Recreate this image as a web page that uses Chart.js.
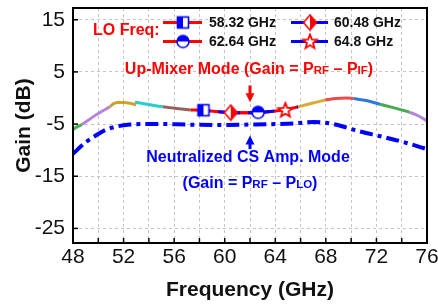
<!DOCTYPE html>
<html><head><meta charset="utf-8">
<script src="https://cdn.jsdelivr.net/npm/chart.js@4.4.0/dist/chart.umd.min.js"></script>
<style>html,body{margin:0;padding:0;background:#fff;}#wrap{width:438px;height:308px;position:relative;}</style>
</head><body><div id="wrap"><canvas id="c" width="438" height="308"></canvas></div>
<script>
const FONT = '"Liberation Sans", Arial, Helvetica, sans-serif';

// tick labels
const xTickLabels = [48, 52, 56, 60, 64, 68, 72, 76];
const yTickLabels = [15, 5, -5, -15, -25];

// LO frequencies (legend) and marker positions
const loNames = ['58.32 GHz', '60.48 GHz', '62.64 GHz', '64.8 GHz'];
const loFreqs = [58.32, 60.48, 62.64, 64.8];
const loGains = [-2.35, -2.8, -2.75, -2.3];

// Up-mixer mode, colored segments (frequency GHz / gain dB)
const greenA_f = [48.0, 48.35, 48.7];
const greenA_g = [-6.0, -5.5, -5.1];
const purpleA_f = [48.7, 49.3, 49.9, 50.4, 50.9];
const purpleA_g = [-5.1, -4.1, -3.1, -2.4, -1.7];
const goldA_f = [50.9, 51.2, 51.5, 52.0, 52.5, 53.0];
const goldA_g = [-1.7, -1.1, -0.85, -0.85, -1.0, -1.3];
const cyan_f = [52.9, 54.1, 55.1];
const cyan_g = [-0.8, -1.3, -1.7];
const brown_f = [55.1, 56.2, 57.3];
const brown_g = [-1.7, -2.0, -2.3];
const mid_f = [57.3, 58.3, 59.3, 60.4, 61.5, 62.5, 63.6, 64.6, 65.8];
const mid_g = [-2.3, -2.35, -2.6, -2.8, -2.85, -2.8, -2.6, -2.3, -1.7];
const goldB_f = [65.8, 66.9, 67.95];
const goldB_g = [-1.7, -1.0, -0.4];
const redB_f = [67.95, 68.8, 69.6, 70.2];
const redB_g = [-0.4, -0.1, 0.0, -0.1];
const blueB_f = [70.2, 71.2, 72.3];
const blueB_g = [-0.1, -0.5, -1.2];
const greenB_f = [72.3, 73.4, 74.6];
const greenB_g = [-1.2, -1.9, -2.7];
const purpleB_f = [74.6, 75.3, 76.0];
const purpleB_g = [-2.7, -3.4, -4.4];

// Neutralized CS amplifier mode
const cs_f = [48, 49, 49.8, 50.5, 51.4, 52.5, 53.3, 55, 57, 59.4, 62, 64, 65.6, 67.1, 68.6, 70.5, 72.6, 74.2, 76];
const cs_g = [-10.7, -8.5, -7.2, -6.2, -5.5, -5.1, -5.0, -5.0, -5.1, -5.2, -5.1, -5.0, -4.85, -4.6, -5.0, -6.3, -7.5, -8.5, -9.8];

const RED = 'rgb(255,0,0)';
const BLUE = 'rgb(0,0,255)';

function pts(fs, gs) { return fs.map((f, i) => ({ x: f, y: gs[i] })); }

function mk(w, draw) {
  const c = document.createElement('canvas'); c.width = w; c.height = w;
  draw(c.getContext('2d'), w / 2); return c;
}
const markers = [
  mk(16, (g, c) => { // half-filled square
    g.fillStyle = '#fff'; g.fillRect(c - 5.5, c - 5.5, 11, 11);
    g.fillStyle = BLUE; g.fillRect(c - 5.5, c - 5.5, 5.5, 11);
    g.strokeStyle = BLUE; g.lineWidth = 1.6; g.strokeRect(c - 5.5, c - 5.5, 11, 11);
  }),
  mk(18, (g, c) => { // half-filled diamond (right)
    g.beginPath(); g.moveTo(c, c - 7.5); g.lineTo(c + 6.5, c); g.lineTo(c, c + 7.5); g.lineTo(c - 6.5, c); g.closePath();
    g.fillStyle = '#fff'; g.fill();
    g.beginPath(); g.moveTo(c, c - 7.5); g.lineTo(c + 6.5, c); g.lineTo(c, c + 7.5); g.closePath();
    g.fillStyle = RED; g.fill();
    g.beginPath(); g.moveTo(c, c - 7.5); g.lineTo(c + 6.5, c); g.lineTo(c, c + 7.5); g.lineTo(c - 6.5, c); g.closePath();
    g.strokeStyle = RED; g.lineWidth = 1.6; g.stroke();
  }),
  mk(16, (g, c) => { // half-filled circle (top)
    g.beginPath(); g.arc(c, c, 6, 0, Math.PI * 2); g.fillStyle = '#fff'; g.fill();
    g.beginPath(); g.arc(c, c, 6, Math.PI, 0); g.closePath(); g.fillStyle = BLUE; g.fill();
    g.beginPath(); g.arc(c, c, 6, 0, Math.PI * 2); g.strokeStyle = BLUE; g.lineWidth = 1.5; g.stroke();
  }),
  mk(18, (g, c) => { // star outline
    g.beginPath();
    for (let i = 0; i < 10; i++) {
      const r = i % 2 ? 3.2 : 7.5; const a = -Math.PI / 2 + i * Math.PI / 5;
      const px = c + r * Math.cos(a), py = c + 0.5 + r * Math.sin(a);
      i ? g.lineTo(px, py) : g.moveTo(px, py);
    }
    g.closePath(); g.fillStyle = '#fff'; g.fill();
    g.strokeStyle = RED; g.lineWidth = 1.8; g.lineJoin = 'miter'; g.stroke();
  })
];
const loLineColors = [RED, BLUE, RED, BLUE];

function seg(fs, gs, color, order) {
  return { data: pts(fs, gs), showLine: true, borderColor: color, borderWidth: 3, pointRadius: 0,
    cubicInterpolationMode: 'monotone', borderCapStyle: 'butt', order: order };
}

const datasets = [];
// markers on top
loFreqs.forEach((f, i) => {
  datasets.push({ label: loNames[i], data: [{ x: f, y: loGains[i] }], showLine: false,
    pointStyle: markers[i], pointRadius: 7, order: 0 });
});
// LO-specific line portions (red solid underneath, blue dashed on top)
const bl1 = seg(mid_f.slice(1, 7), mid_g.slice(1, 7), BLUE, 1); bl1.borderDash = [7, 8];
const bl2 = seg(mid_f.slice(5), mid_g.slice(5), BLUE, 1); bl2.borderDash = [7, 8]; bl2.borderDashOffset = 4;
datasets.push(bl1, bl2);
datasets.push(seg(mid_f.slice(0, 6), mid_g.slice(0, 6), RED, 2));
datasets.push(seg(mid_f.slice(3), mid_g.slice(3), RED, 2));
// other LO segments
datasets.push(seg(greenA_f, greenA_g, 'rgb(70,175,80)', 3));
datasets.push(seg(purpleA_f, purpleA_g, 'rgb(178,132,222)', 3));
datasets.push(seg(goldA_f, goldA_g, 'rgb(205,160,40)', 3));
datasets.push(seg(cyan_f, cyan_g, 'rgb(40,205,205)', 3));
datasets.push(seg(brown_f, brown_g, 'rgb(150,95,90)', 3));
datasets.push(seg(goldB_f, goldB_g, 'rgb(220,170,50)', 3));
datasets.push(seg(redB_f, redB_g, 'rgb(235,75,75)', 3));
datasets.push(seg(blueB_f, blueB_g, 'rgb(45,120,220)', 3));
datasets.push(seg(greenB_f, greenB_g, 'rgb(70,170,80)', 3));
datasets.push(seg(purpleB_f, purpleB_g, 'rgb(178,132,222)', 3));
// CS amp mode
const cs = seg(cs_f, cs_g, BLUE, 4); cs.borderWidth = 4; cs.borderDash = [13, 5, 4, 5];
datasets.push(cs);

function richText(ctx, parts, cx, baseline, color) {
  let total = 0;
  parts.forEach(p => { ctx.font = 'bold ' + p[1] + 'px ' + FONT; total += ctx.measureText(p[0]).width; });
  let x = cx - total / 2;
  ctx.fillStyle = color; ctx.textAlign = 'left'; ctx.textBaseline = 'alphabetic';
  parts.forEach(p => { ctx.font = 'bold ' + p[1] + 'px ' + FONT; ctx.fillText(p[0], x, baseline); x += ctx.measureText(p[0]).width; });
}

const annot = {
  id: 'annot',
  afterDraw(chart) {
    const ctx = chart.ctx, a = chart.chartArea, xs = chart.scales.x, ys = chart.scales.y;
    ctx.save();
    // inner tick marks
    ctx.strokeStyle = '#000'; ctx.lineWidth = 1.5;
    xs.ticks.forEach(t => {
      const px = xs.getPixelForValue(t.value);
      ctx.beginPath(); ctx.moveTo(px, a.bottom); ctx.lineTo(px, a.bottom - 5); ctx.stroke();
    });
    ys.ticks.forEach(t => {
      const py = ys.getPixelForValue(t.value);
      ctx.beginPath(); ctx.moveTo(a.left, py); ctx.lineTo(a.left + 5, py); ctx.stroke();
    });
    // frame
    ctx.lineWidth = 2; ctx.strokeRect(a.left, a.top, a.right - a.left, a.bottom - a.top);

    // legend
    ctx.font = 'bold 16px ' + FONT; ctx.fillStyle = RED; ctx.textAlign = 'left'; ctx.textBaseline = 'middle';
    ctx.fillText('LO Freq:', 93, 31);
    const cols = [[163, 202, 183, 209], [291, 328, 310, 334]];
    const rows = [22.5, 41.5];
    const slot = [[0, 0], [1, 0], [0, 1], [1, 1]]; // col,row per LO
    loNames.forEach((n, i) => {
      const c = cols[slot[i][0]], y = rows[slot[i][1]];
      ctx.strokeStyle = loLineColors[i]; ctx.lineWidth = 3;
      ctx.beginPath(); ctx.moveTo(c[0], y); ctx.lineTo(c[1], y); ctx.stroke();
      const m = markers[i]; ctx.drawImage(m, c[2] - m.width / 2, y - m.height / 2);
      ctx.font = 'bold 14px ' + FONT; ctx.fillStyle = '#111'; ctx.textBaseline = 'middle'; ctx.textAlign = 'left';
      ctx.fillText(n, c[3], y + 0.5);
    });

    // Up-mixer label
    richText(ctx, [['Up-Mixer Mode (Gain = P', 16], ['RF', 11.5], [' \u2013 P', 16], ['IF', 11.5], [')', 16]], 249, 73.5, RED);
    // CS amp labels
    richText(ctx, [['Neutralized CS Amp. Mode', 16]], 248, 161.7, BLUE);
    richText(ctx, [['(Gain = P', 16], ['RF', 11.5], [' \u2013 P', 16], ['LO', 11.5], [')', 16]], 250, 187.5, BLUE);

    // arrows at 62 GHz
    const ax = xs.getPixelForValue(62);
    // red down arrow
    const r0 = ys.getPixelForValue(2.4), rTip = ys.getPixelForValue(-0.8);
    ctx.fillStyle = RED; ctx.fillRect(ax - 1.5, r0, 3, (rTip - r0) - 7);
    ctx.beginPath(); ctx.moveTo(ax - 4.5, rTip - 9); ctx.lineTo(ax + 4.5, rTip - 9); ctx.lineTo(ax, rTip); ctx.closePath(); ctx.fill();
    // blue up arrow
    const bTip = ys.getPixelForValue(-7.2), b0 = ys.getPixelForValue(-9.8);
    ctx.fillStyle = BLUE; ctx.fillRect(ax - 1.5, bTip + 7, 3, b0 - bTip - 7);
    ctx.beginPath(); ctx.moveTo(ax - 4.5, bTip + 9); ctx.lineTo(ax + 4.5, bTip + 9); ctx.lineTo(ax, bTip); ctx.closePath(); ctx.fill();
    ctx.restore();
  }
};

new Chart(document.getElementById('c'), {
  type: 'scatter',
  data: { datasets: datasets },
  options: {
    responsive: false, animation: false, devicePixelRatio: 1,
    layout: { padding: { left: 0, right: 11, top: 3, bottom: 0 } },
    plugins: { legend: { display: false }, tooltip: { enabled: false } },
    scales: {
      x: {
        type: 'linear', min: 48, max: 76,
        ticks: { stepSize: 2, autoSkip: false, maxRotation: 0, padding: 2.1,
          callback: v => xTickLabels.includes(v) ? String(v) : '',
          font: { family: FONT, size: 21 }, color: '#111' },
        grid: { color: '#c4c4c4', lineWidth: 1, drawTicks: false },
        border: { display: false, dash: [3, 3] },
        title: { display: true, text: 'Frequency (GHz)', color: '#111',
          font: { family: FONT, size: 21, weight: 'bold' }, padding: { top: 0, bottom: 5.4 } },
        afterFit: s => { s.height = 65; s.paddingLeft = 0; s.paddingRight = 0; }
      },
      y: {
        type: 'linear', min: -27.8, max: 17.25,
        afterBuildTicks: ax => { ax.ticks = yTickLabels.map(v => ({ value: v })); },
        ticks: { padding: 8, font: { family: FONT, size: 21 }, color: '#111' },
        grid: { color: '#c4c4c4', lineWidth: 1, drawTicks: false },
        border: { display: false, dash: [3, 3] },
        title: { display: true, text: 'Gain (dB)', color: '#111',
          font: { family: FONT, size: 21, weight: 'bold' }, padding: { top: 11.8, bottom: 0 } },
        afterFit: s => { s.width = 73; s.paddingTop = 0; s.paddingBottom = 0; }
      }
    }
  },
  plugins: [annot]
});
</script></body></html>
